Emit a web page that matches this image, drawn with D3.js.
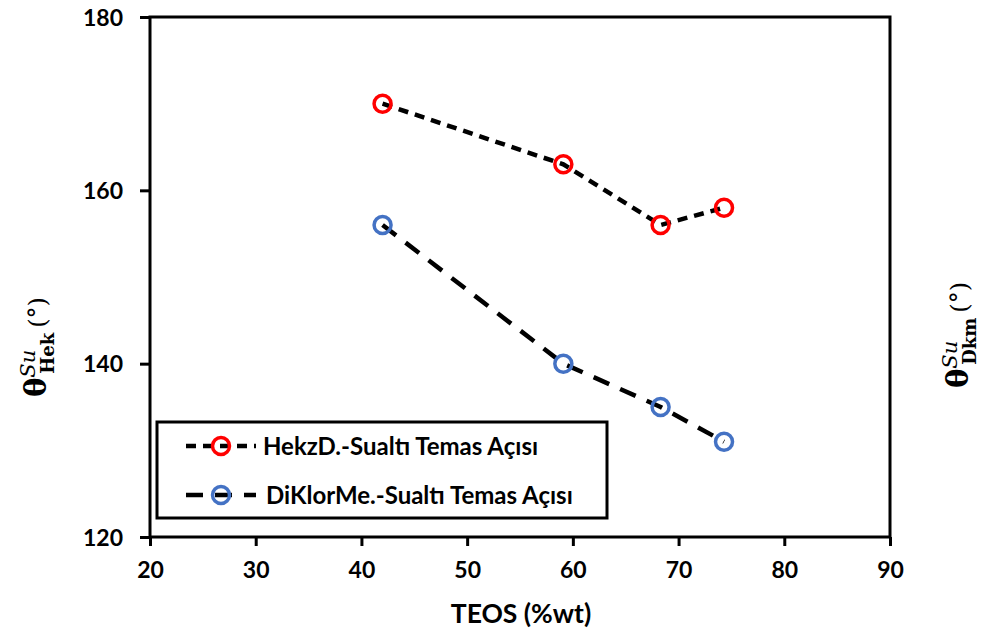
<!DOCTYPE html>
<html>
<head>
<meta charset="utf-8">
<script src="https://cdn.jsdelivr.net/npm/d3@7"></script>
<style>
  html, body { margin: 0; padding: 0; background: #fff; }
  svg { display: block; }
  .tick-label { font-family: Lato, "Open Sans", sans-serif; font-weight: 700; font-size: 23px; fill: #000; }
  .axis-title { font-family: Lato, "Open Sans", sans-serif; font-weight: 700; font-size: 26.5px; fill: #000; }
  .legend-text { font-family: Lato, "Open Sans", sans-serif; font-weight: 700; font-size: 24px; fill: #000; }
  .ylab { font-family: "DejaVu Serif", "Liberation Serif", serif; fill: #000; }
</style>
</head>
<body>
<svg id="chart" width="984" height="639"></svg>
<script>
// TEOS content (%wt)
const teos = [42, 59.1, 68.3, 74.3];
// Underwater contact angles (°)
const hekzValues = [170, 163, 156, 158];
const diklorValues = [156, 140, 135, 131];
const seriesNames = ["HekzD.-Sualtı Temas Açısı", "DiKlorMe.-Sualtı Temas Açısı"];
const seriesColors = ["#ff0000", "#4472c4"];
const xTicks = [20, 30, 40, 50, 60, 70, 80, 90];
const yTicks = [120, 140, 160, 180];

const svg = d3.select("#chart");
const plotLeft = 150, plotRight = 890, plotTop = 17, plotBottom = 537;

const x = d3.scaleLinear().domain([20, 90]).range([plotLeft, plotRight]);
const y = d3.scaleLinear().domain([120, 180]).range([plotBottom, plotTop]);

// Plot frame
svg.append("rect")
  .attr("x", plotLeft).attr("y", plotTop)
  .attr("width", plotRight - plotLeft).attr("height", plotBottom - plotTop)
  .attr("fill", "none").attr("stroke", "#000").attr("stroke-width", 3);

// Y axis ticks and labels
const yAxis = d3.axisLeft(y).tickValues(yTicks).tickSize(10).tickPadding(17).tickFormat(d3.format("d"));
const gy = svg.append("g").attr("transform", `translate(${plotLeft},0)`).call(yAxis);
gy.select(".domain").remove();
gy.selectAll(".tick line").attr("stroke", "#000").attr("stroke-width", 3);
gy.selectAll(".tick text").attr("class", "tick-label").attr("dy", "0.36em");

// X axis ticks and labels
const xAxis = d3.axisBottom(x).tickValues(xTicks).tickSize(9).tickPadding(16).tickFormat(d3.format("d"));
const gx = svg.append("g").attr("transform", `translate(0,${plotBottom})`).call(xAxis);
gx.select(".domain").remove();
gx.selectAll(".tick line").attr("stroke", "#000").attr("stroke-width", 3);
gx.selectAll(".tick text").attr("class", "tick-label").attr("dy", "0.71em");

// X axis title
svg.append("text").attr("class", "axis-title")
  .attr("x", 521).attr("y", 623)
  .attr("text-anchor", "middle").text("TEOS (%wt)");

// Y axis titles (left and right), rotated
function yTitle(cx, cy, sub) {
  const t = svg.append("text").attr("class", "ylab")
    .attr("transform", `translate(${cx},${cy}) rotate(-90)`)
    .attr("text-anchor", "middle");
  t.append("tspan").attr("font-weight", 700).attr("font-size", 29).text("θ");
  t.append("tspan").attr("font-style", "italic").attr("font-size", 21).attr("dy", -11).text("Su");
  t.append("tspan").attr("font-weight", 700).attr("font-size", 18).attr("dx", -24).attr("dy", 19).text(sub);
  t.append("tspan").attr("font-size", 24).attr("dx", 5).attr("dy", -8).text("(°)");
}
yTitle(46, 347, "Hek");
yTitle(968, 335, "Dkm");

const line = d3.line().x(d => x(d[0])).y(d => y(d[1]));
const dashes = ["10,7", "17,12"];
const allSeries = [hekzValues, diklorValues];

allSeries.forEach((vals, i) => {
  const pts = teos.map((t, j) => [t, vals[j]]);
  svg.append("path").datum(pts)
    .attr("d", line).attr("fill", "none")
    .attr("stroke", "#000").attr("stroke-width", 4.5)
    .attr("stroke-dasharray", dashes[i]);
  svg.append("g").selectAll("circle").data(pts).join("circle")
    .attr("cx", d => x(d[0])).attr("cy", d => y(d[1]))
    .attr("r", 8.5).attr("fill", "none")
    .attr("stroke", seriesColors[i]).attr("stroke-width", 3.5);
});

// Legend
const legend = svg.append("g");
legend.append("rect")
  .attr("x", 157).attr("y", 422).attr("width", 450).attr("height", 96)
  .attr("fill", "#fff").attr("stroke", "#000").attr("stroke-width", 3);
const legY = [446, 495];
seriesNames.forEach((name, i) => {
  legend.append("line")
    .attr("x1", 186).attr("x2", 256).attr("y1", legY[i]).attr("y2", legY[i])
    .attr("stroke", "#000").attr("stroke-width", 4.5)
    .attr("stroke-dasharray", dashes[i]);
  legend.append("circle")
    .attr("cx", 221).attr("cy", legY[i]).attr("r", 8.5)
    .attr("fill", "none").attr("stroke", seriesColors[i]).attr("stroke-width", 3.5);
  legend.append("text").attr("class", "legend-text")
    .attr("x", i === 0 ? 263 : 266).attr("y", legY[i]).attr("dy", "0.36em")
    .text(name);
});
</script>
</body>
</html>
